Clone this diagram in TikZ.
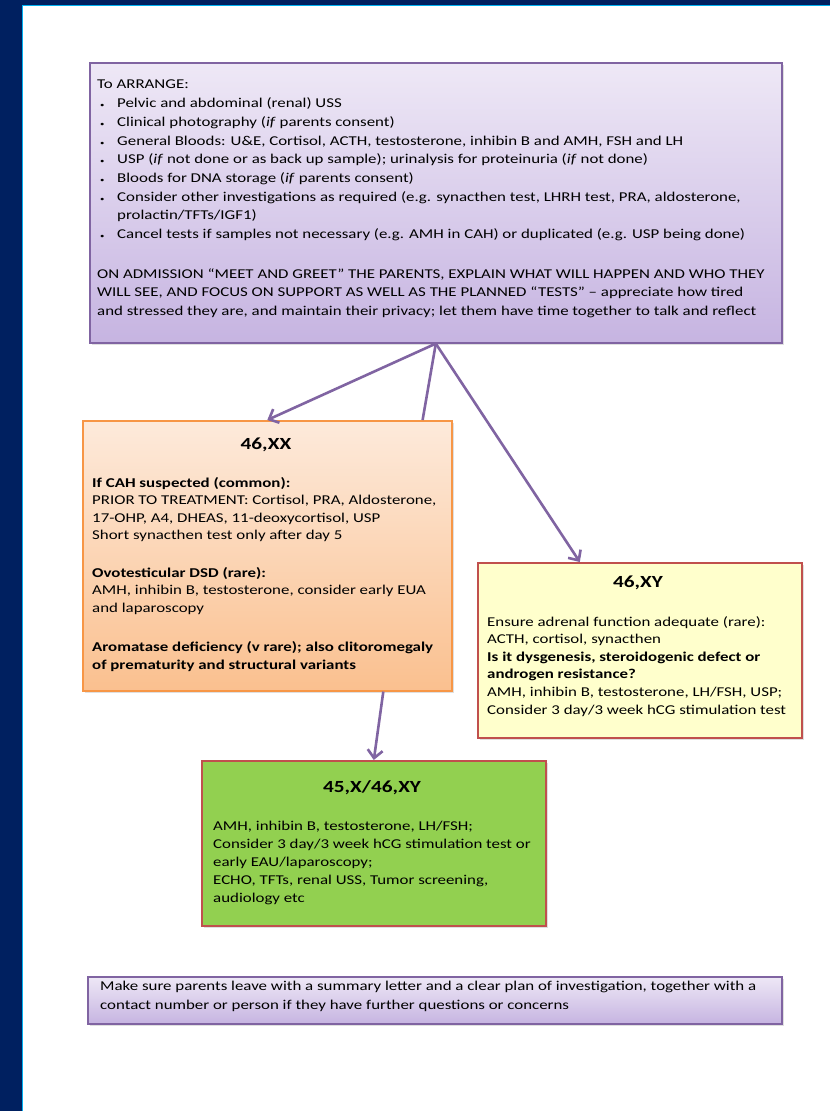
\documentclass[tikz,border=0pt]{standalone}
\usepackage{fontspec}
\setmainfont{Carlito}
\newfontfamily\widefont{Carlito}[FakeStretch=1.25, Ligatures=TeX]
\usetikzlibrary{arrows.meta, shadows}

\definecolor{navyband}{HTML}{002060}
\definecolor{skyline}{HTML}{00B0F0}
\definecolor{lilacline}{HTML}{8064A2}
\definecolor{lilactop}{HTML}{EEE8F6}
\definecolor{lilacbot}{HTML}{C6B4E1}
\definecolor{peachline}{HTML}{F79646}
\definecolor{peachtop}{HTML}{FDEADB}
\definecolor{peachbot}{HTML}{FAC08F}
\definecolor{redline}{HTML}{C0504D}
\definecolor{creamfill}{HTML}{FFFFCC}
\definecolor{limefill}{HTML}{92D050}

\newcommand{\bitem}[1]{\makebox[20pt][l]{\hspace{3pt}\scriptsize\textbullet}#1}

\begin{document}
\begin{tikzpicture}[x=1pt, y=-1pt,
  panel/.style={anchor=north west, inner sep=0pt, line width=1.6pt,
    drop shadow={shadow xshift=2pt, shadow yshift=-2pt, opacity=0.25}},
  lilacbox/.style={panel, draw=lilacline, top color=lilactop, bottom color=lilacbot},
  peachbox/.style={panel, draw=peachline, top color=peachtop, bottom color=peachbot},
  creambox/.style={panel, draw=redline, fill=creamfill},
  limebox/.style={panel, draw=redline, fill=limefill},
  body/.style={anchor=north west, inner sep=0pt, align=left,
    font=\widefont\fontsize{13.5}{18.7}\selectfont},
  title/.style={inner sep=0pt, font=\widefont\fontsize{17}{20}\selectfont\bfseries},
  link/.style={draw=lilacline, line width=2.6pt},
  arrowlink/.style={link, -{Straight Barb[length=8pt, width=15pt]}}]

  \useasboundingbox (0,0) rectangle (830,1111);

  % Page frame
  \fill[navyband] (0,0) rectangle (830,1111);
  \fill[white] (22,5) rectangle (830,1111);
  \draw[skyline, line width=1.5pt] (22.7,1111) -- (22.7,5.7) -- (830,5.7);

  % Boxes
  \node[lilacbox, minimum width=692pt, minimum height=280pt] (arrange) at (89,62) {};
  \node[peachbox, minimum width=369pt, minimum height=270pt] (xx) at (82,420) {};
  \node[creambox, minimum width=324pt, minimum height=175pt] (xy) at (477,562) {};
  \node[limebox, minimum width=344pt, minimum height=165pt] (mosaic) at (201,760) {};
  \node[lilacbox, minimum width=694pt, minimum height=47pt] (leave) at (87,976) {};

  % Texts
  \node[body] (arrangetext) at (97,80) {To ARRANGE:\\
    \bitem{Pelvic and abdominal (renal) USS}\\
    \bitem{Clinical photography (\emph{if} parents consent)}\\
    \bitem{General Bloods: U\&E, Cortisol, ACTH, testosterone, inhibin B and AMH, FSH and LH}\\
    \bitem{USP (\emph{if} not done or as back up sample); urinalysis for proteinuria (\emph{if} not done)}\\
    \bitem{Bloods for DNA storage (\emph{if} parents consent)}\\
    \bitem{Consider other investigations as required (e.g. synacthen test, LHRH test, PRA, aldosterone,}\\
    \hspace*{20pt}prolactin/TFTs/IGF1)\\
    \bitem{Cancel tests if samples not necessary (e.g. AMH in CAH) or duplicated (e.g. USP being done)}\\[21pt]
    ON ADMISSION “MEET AND GREET” THE PARENTS, EXPLAIN WHAT WILL HAPPEN AND WHO THEY\\
    WILL SEE, AND FOCUS ON SUPPORT AS WELL AS THE PLANNED “TESTS” – appreciate how tired\\
    and stressed they are, and maintain their privacy; let them have time together to talk and reflect};

  \node[title] (xxtitle) at (266,445) {46,XX};
  \node[body, font=\widefont\fontsize{13.5}{17.5}\selectfont] (xxtext) at (92,477) {\textbf{If CAH suspected (common):}\\
    PRIOR TO TREATMENT: Cortisol, PRA, Aldosterone,\\
    17-OHP, A4, DHEAS, 11-deoxycortisol, USP\\
    Short synacthen test only after day 5\\[20pt]
    \textbf{Ovotesticular DSD (rare):}\\
    AMH, inhibin B, testosterone, consider early EUA\\
    and laparoscopy\\[22pt]
    \textbf{Aromatase deficiency (v rare); also clitoromegaly}\\
    \textbf{of prematurity and structural variants}};

  \node[title] (xytitle) at (638,583) {46,XY};
  \node[body, font=\widefont\fontsize{13.5}{17.6}\selectfont] (xytext) at (487,616) {Ensure adrenal function adequate (rare):\\
    ACTH, cortisol, synacthen\\
    \textbf{Is it dysgenesis, steroidogenic defect or}\\
    \textbf{androgen resistance?}\\
    AMH, inhibin B, testosterone, LH/FSH, USP;\\
    Consider 3 day/3 week hCG stimulation test};

  \node[title] (mosaictitle) at (372,788) {45,X/46,XY};
  \node[body, font=\widefont\fontsize{13.5}{18}\selectfont] (mosaictext) at (213,821) {AMH, inhibin B, testosterone, LH/FSH;\\
    Consider 3 day/3 week hCG stimulation test or\\
    early EAU/laparoscopy;\\
    ECHO, TFTs, renal USS, Tumor screening,\\
    audiology etc};

  \node[body] (leavetext) at (100,981) {Make sure parents leave with a summary letter and a clear plan of investigation, together with a\\
    contact number or person if they have further questions or concerns};

  % Connectors
  \draw[arrowlink] (arrange.south) -- (xx.north);
  \draw[link] (arrange.south) -- ([xshift=-30pt]xx.north east);
  \draw[arrowlink] (arrange.south) -- ([xshift=-60pt]xy.north);
  \draw[arrowlink] ([xshift=116pt]xx.south) -- (mosaic.north);

\end{tikzpicture}
\end{document}
